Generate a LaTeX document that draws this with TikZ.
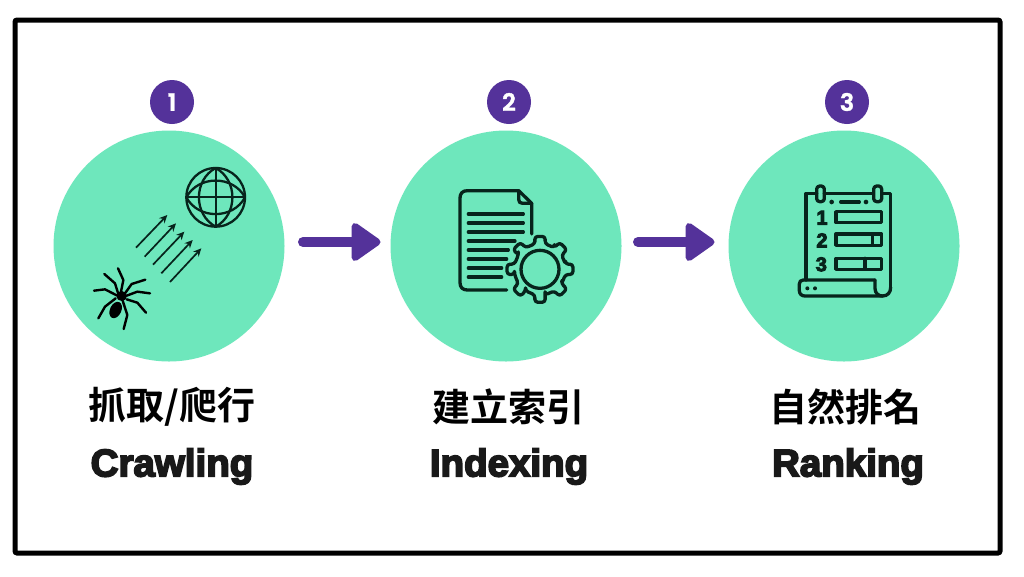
\documentclass[tikz,border=0pt]{standalone}
\usepackage{fontspec}
\usetikzlibrary{arrows.meta,calc}
\newfontfamily\cjkbold{Noto Sans CJK TC Bold}
\newfontfamily\enheavy[FakeBold=4.5]{Liberation Sans Bold}
\newfontfamily\numfont[FakeBold=1.5]{Poppins SemiBold}
\definecolor{mint}{HTML}{6EE7BC}
\definecolor{grape}{HTML}{54329A}
\definecolor{inkc}{HTML}{07241C}
\tikzset{
  disc/.style={circle,fill=mint,minimum size=231pt,inner sep=0pt},
  badge/.style={circle,fill=grape,minimum size=44pt,inner sep=0pt,text=white,font=\numfont\fontsize{24}{24}\selectfont},
  cjklabel/.style={inner sep=0pt,font=\cjkbold\fontsize{38}{38}\selectfont,text=black},
  enlabel/.style={inner sep=0pt,font=\enheavy\fontsize{38.5}{38.5}\selectfont,text=black!90},
  flow/.style={line width=10pt,color=grape,line cap=round},
  flowhead/.style={fill=grape,draw=grape,line width=7pt,line join=round},
  icon/.style={draw=inkc,line width=3.3pt,line cap=round,line join=round},
  thinicon/.style={draw=inkc,line width=2.3pt,line cap=round,line join=round},
  leg/.style={draw=black,line width=2.4pt,line cap=round,line join=round},
  ray/.style={draw=inkc,line width=1.7pt,-{Stealth[length=8pt,width=7.5pt]}},
  rankdigit/.style={inner sep=0pt,text=inkc,font=\enheavy\fontsize{20}{20}\selectfont}
}
\begin{document}
\begin{tikzpicture}[x=1pt,y=-1pt]
\useasboundingbox (0,0) rectangle (1024,576);
\fill[white] (0,0) rectangle (1024,576);
\draw[black,line width=5pt,rounded corners=2pt] (15,20) rectangle (1000,553);
% discs
\node[disc] (c1) at (169,246) {};
\node[disc] (c2) at (506,246) {};
\node[disc] (c3) at (844,246) {};
% badges
\node[badge] (b1) at (172,102) {1};
\node[badge] (b2) at (509,102) {2};
\node[badge] (b3) at (847,102) {3};
% arrows
\coordinate (a1s) at (303,242); \coordinate (a1e) at (381,242);
\coordinate (a2s) at (638,242); \coordinate (a2e) at (715,242);
\foreach \st/\en in {a1s/a1e,a2s/a2e} {
  \draw[flow] (\st) -- ($(\en)+(-20,0)$);
  \draw[flowhead] ($(\en)+(-26,-15.5)$) -- ($(\en)+(-4,0)$) -- ($(\en)+(-26,15.5)$) -- cycle;
}
% labels
\node[cjklabel] (t1) at (172,407) {抓取/爬行};
\node[cjklabel] (t2) at (508,407) {建立索引};
\node[cjklabel] (t3) at (845,407) {自然排名};
\node[enlabel] (e1) at (172,466.5) {Crawling};
\node[enlabel] (e2) at (509,466.5) {Indexing};
\node[enlabel] (e3) at (848,466.5) {Ranking};
% spider and globe
\begin{scope}[shift={(50,130)},scale=1/3]
  \draw[ray] (258,353) -- (352,255);
  \draw[ray] (284,380) -- (378,280);
  \draw[ray] (309,404) -- (403,305);
  \draw[ray] (334,430) -- (428,330);
  \draw[ray] (360,456) -- (454,355);
  \draw[thinicon] (497,202) circle (88);
  \draw[thinicon] (497,114) -- (497,290);
  \draw[thinicon] (409,202) -- (585,202);
  \draw[thinicon] (497,114) .. controls (430,150) and (430,254) .. (497,290);
  \draw[thinicon] (497,114) .. controls (564,150) and (564,254) .. (497,290);
  \draw[thinicon] (409,202) .. controls (445,135) and (549,135) .. (585,202);
  \draw[thinicon] (409,202) .. controls (445,269) and (549,269) .. (585,202);
  % spider
  \fill[black] (215,498) ellipse (16 and 15);
  \fill[black,rotate around={-25:(197,540)}] (197,540) ellipse (17 and 26);
  \draw[leg] (212,490) -- (220,450) -- (204,415);
  \draw[leg] (205,492) -- (195,460) -- (163,432);
  \draw[leg] (200,496) -- (165,478) -- (132,482);
  \draw[leg] (197,505) -- (165,530) -- (145,565);
  \draw[leg] (225,490) -- (245,462) -- (286,449);
  \draw[leg] (230,497) -- (262,485) -- (300,490);
  \draw[leg] (230,508) -- (262,518) -- (288,548);
  \draw[leg] (218,512) -- (232,555) -- (221,597);
\end{scope}
% document and gear
\begin{scope}[shift={(440,170)},scale=1/3]
  \draw[icon] (200,360) -- (82,360) .. controls (68,360) and (60,352) .. (60,338) -- (60,84) .. controls (60,70) and (68,62) .. (82,62) -- (236,62) -- (275,100) -- (275,192);
  \draw[icon] (236,62) -- (236,88) .. controls (236,96) and (240,100) .. (248,100) -- (275,100);
  \foreach \yy/\xe in {132/250,159/250,186/250,213/225,240/205,267/200,294/185,321/185}
    \draw[icon] (85,\yy) -- (\xe,\yy);
  \draw[icon,rounded corners=3pt] (300,298)
    ++(-11.25:78)
    \foreach \k in {0,...,7} {
      -- ($(300,298)+({\k*45-11.25}:78)$)
      -- ($(300,298)+({\k*45-9}:100)$)
      -- ($(300,298)+({\k*45+9}:100)$)
      -- ($(300,298)+({\k*45+11.25}:78)$)
      -- ($(300,298)+({\k*45+33.75}:78)$)
    } -- cycle;
  \draw[icon] (300,298) circle (57);
\end{scope}
% ranking sheet
\begin{scope}[shift={(780,170)},scale=1/3]
  \draw[icon] (78,330) -- (78,70) -- (110,70);
  \draw[icon] (133,70) -- (280,70);
  \draw[icon] (305,70) -- (332,70) -- (332,352);
  \draw[icon,rounded corners=3pt] (110,48) rectangle (133,95);
  \draw[icon,rounded corners=3pt] (281,48) rectangle (305,95);
  \fill[inkc] (155,96) circle (7);
  \fill[inkc] (258,96) circle (7);
  \draw[icon] (182,96) -- (238,96);
  \draw[icon] (168,125) rectangle (305,158);
  \draw[icon] (168,192) rectangle (305,226);
  \draw[icon] (278,192) -- (278,226);
  \draw[icon] (168,265) rectangle (305,298);
  \draw[icon] (255,265) -- (255,298);
  \node[rankdigit] (n1) at (126,143) {1};
  \node[rankdigit] (n2) at (126,211) {2};
  \node[rankdigit] (n3) at (124,283) {3};
  \draw[icon] (285,330) -- (70,330) .. controls (62,330) and (58,335) .. (58,342) -- (58,362) .. controls (58,372) and (65,378) .. (75,378) -- (308,378) .. controls (322,378) and (332,368) .. (332,352);
  \draw[icon] (285,330) -- (285,355) .. controls (285,370) and (295,378) .. (308,378);
  \fill[inkc] (82,355) circle (6);
  \fill[inkc] (105,355) circle (6);
\end{scope}
\end{tikzpicture}
\end{document}
